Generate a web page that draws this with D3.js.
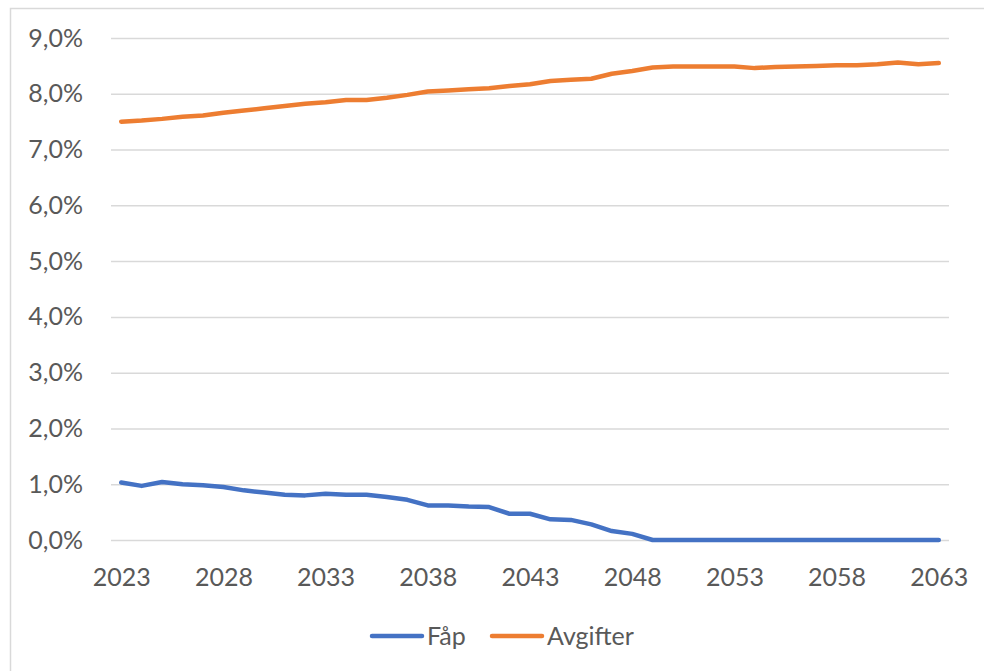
<!DOCTYPE html>
<html>
<head>
<meta charset="utf-8">
<script src="https://cdn.jsdelivr.net/npm/d3@7"></script>
<style>
  html, body { margin: 0; padding: 0; background: #fff; }
  svg { display: block; }
  text { font-family: Lato, "Open Sans", sans-serif; fill: #595959; }
</style>
</head>
<body>
<svg id="chart" width="984" height="671"></svg>
<script>
const years = d3.range(2023, 2064);
const tickYears = [2023, 2028, 2033, 2038, 2043, 2048, 2053, 2058, 2063];
const yTicks = [0, 0.01, 0.02, 0.03, 0.04, 0.05, 0.06, 0.07, 0.08, 0.09];
const seriesNames = ["Fåp", "Avgifter"];
const seriesColors = ["#4472C4", "#ED7D31"];
const fap = [1.03, 0.97, 1.04, 1.00, 0.98, 0.95, 0.89, 0.85, 0.81, 0.80,
             0.83, 0.81, 0.81, 0.77, 0.72, 0.62, 0.62, 0.60, 0.59, 0.47,
             0.47, 0.37, 0.36, 0.28, 0.16, 0.11, 0.00, 0.00, 0.00, 0.00,
             0.00, 0.00, 0.00, 0.00, 0.00, 0.00, 0.00, 0.00, 0.00, 0.00, 0.00].map(v => v / 100);
const avgifter = [7.50, 7.52, 7.55, 7.59, 7.61, 7.66, 7.70, 7.74, 7.78, 7.82,
                  7.85, 7.89, 7.89, 7.93, 7.98, 8.04, 8.06, 8.08, 8.10, 8.14,
                  8.17, 8.23, 8.25, 8.27, 8.36, 8.41, 8.47, 8.49, 8.49, 8.49,
                  8.49, 8.46, 8.48, 8.49, 8.50, 8.51, 8.51, 8.53, 8.56, 8.53, 8.55].map(v => v / 100);
const seriesData = [fap, avgifter];

const svg = d3.select("#chart");
const plotLeft = 111, plotRight = 949, plotTop = 38, plotBottom = 540;

// outer border
svg.append("rect").attr("x", 10.5).attr("y", 8.5).attr("width", 1000).attr("height", 700)
  .attr("fill", "none").attr("stroke", "#d9d9d9").attr("stroke-width", 1.5);

const x = d3.scalePoint().domain(years).range([plotLeft, plotRight]).padding(0.5);
const y = d3.scaleLinear().domain([0, 0.09]).range([plotBottom, plotTop]);

const fmt = v => d3.format(".1f")(v * 100).replace(".", ",") + "%";

const yAxis = d3.axisLeft(y).tickValues(yTicks).tickSize(-(plotRight - plotLeft)).tickFormat(fmt).tickPadding(28);
const gy = svg.append("g").attr("transform", `translate(${plotLeft},0)`).call(yAxis);
gy.select(".domain").remove();
gy.selectAll(".tick line").attr("stroke", "#d9d9d9").attr("stroke-width", 1.5);
gy.selectAll(".tick text").attr("font-size", 25).attr("fill", "#595959")
  .attr("font-family", "Lato, 'Open Sans', sans-serif");

const xAxis = d3.axisBottom(x).tickValues(tickYears).tickSize(0).tickPadding(28);
const gx = svg.append("g").attr("transform", `translate(0,${plotBottom})`).call(xAxis);
gx.select(".domain").remove();
gx.selectAll(".tick text").attr("font-size", 25).attr("fill", "#595959")
  .attr("font-family", "Lato, 'Open Sans', sans-serif");

const line = d3.line().x((d, i) => x(years[i])).y(d => y(d));
seriesData.forEach((s, k) => {
  svg.append("path").datum(s).attr("d", line)
    .attr("fill", "none").attr("stroke", seriesColors[k])
    .attr("stroke-width", 4.5).attr("stroke-linecap", "round").attr("stroke-linejoin", "round");
});

// legend
const legendX = [372, 492];
const legend = svg.append("g");
seriesNames.forEach((name, k) => {
  legend.append("line").attr("x1", legendX[k]).attr("x2", legendX[k] + 50)
    .attr("y1", 636).attr("y2", 636)
    .attr("stroke", seriesColors[k]).attr("stroke-width", 4.5).attr("stroke-linecap", "round");
  legend.append("text").attr("x", legendX[k] + 55).attr("y", 645)
    .attr("font-size", 25).text(name);
});
</script>
</body>
</html>
